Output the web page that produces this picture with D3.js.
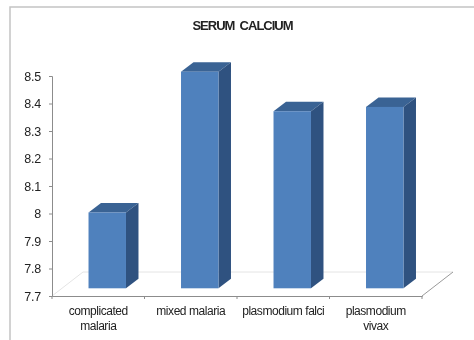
<!DOCTYPE html>
<meta charset="utf-8">
<style>
    body { margin: 0; background: #fff; }
    svg { display: block; filter: blur(0.4px); }
    text { font-family: "Liberation Sans", Arial, sans-serif; fill: #222; }
    .axis path, .axis line { stroke: #8c8c8c; }
</style>
<body>
<script src="https://cdn.jsdelivr.net/npm/d3@7"></script>
<script>
var categories = [["complicated", "malaria"], ["mixed malaria"], ["plasmodium falci"], ["plasmodium", "vivax"]];
var values = [7.98, 8.5, 8.354, 8.37];
var yTicks = [7.7, 7.8, 7.9, 8, 8.1, 8.2, 8.3, 8.4, 8.5];

var width = 474, height = 340;
var names = categories.map(function (d) { return d.join(" "); });

var svg = d3.select("body").append("svg")
    .attr("width", width)
    .attr("height", height);

// scales for the axes (front edge of the floor)
var x = d3.scaleBand().domain(names).range([52, 422]);
var y = d3.scaleLinear().domain([7.7, 8.5]).range([296, 76]);

// the bars stand further back on the floor, so they get their own scales
var xBar = d3.scaleBand().domain(names).range([61, 431]).paddingInner(0.595).paddingOuter(0.2975);
var yBar = d3.scaleLinear().domain([7.7, 8.5]).range([288.3, 71.7]);
var barDx = 12.5, barDy = -9.5, floorDx = 31, floorDy = -24;

// outer frame
svg.append("path")
    .attr("d", "M10," + height + "V7H" + width)
    .attr("fill", "none")
    .attr("stroke", "#c4c4c4")
    .attr("stroke-width", 1.5);

// floor
svg.append("path")
    .attr("d", "M52,296L" + (52 + floorDx) + "," + (296 + floorDy) + "H" + (422 + floorDx))
    .attr("fill", "none")
    .attr("stroke", "#e4e4e4");
svg.append("line")
    .attr("x1", 422).attr("y1", 296)
    .attr("x2", 422 + floorDx).attr("y2", 296 + floorDy)
    .attr("stroke", "#9a9a9a");

// title
svg.append("text")
    .attr("x", 242.5)
    .attr("y", 30)
    .attr("text-anchor", "middle")
    .style("font-size", "13px")
    .style("font-weight", "bold")
    .style("letter-spacing", "-1px")
    .attr("xml:space", "preserve")
    .text("SERUM  CALCIUM");

// axes
svg.append("g")
    .attr("class", "axis")
    .attr("transform", "translate(52,0)")
    .call(d3.axisLeft(y).tickValues(yTicks).tickSize(3).tickFormat(function (d) { return d3.format("")(d); }))
    .call(function (g) { g.selectAll("text").style("font-size", "12.5px").style("letter-spacing", "-0.2px").attr("x", -11); });

var xAxis = svg.append("g")
    .attr("class", "axis")
    .attr("transform", "translate(0,296)")
    .call(d3.axisBottom(x).tickSize(0).tickFormat(""));

xAxis.selectAll(".edge")
    .data([52].concat(names.map(function (d) { return x(d) + x.bandwidth(); })))
    .enter().append("line")
    .attr("class", "edge")
    .attr("x1", function (d) { return d; })
    .attr("x2", function (d) { return d; })
    .attr("y1", 0)
    .attr("y2", 3);

// category labels, wrapped on two lines
var labels = svg.selectAll(".cat")
    .data(categories)
    .enter().append("text")
    .attr("class", "cat")
    .attr("text-anchor", "middle")
    .style("font-size", "12px")
    .style("letter-spacing", "-0.45px")
    .attr("transform", function (d, i) {
        return "translate(" + (x(names[i]) + x.bandwidth() / 2) + ",315)";
    });
labels.selectAll("tspan")
    .data(function (d) { return d; })
    .enter().append("tspan")
    .attr("x", 0)
    .attr("y", function (d, i) { return i * 14.5; })
    .text(function (d) { return d; });

// bars: top, side, then front
var bars = svg.selectAll(".bar")
    .data(values)
    .enter().append("g")
    .attr("class", "bar");

bars.append("path")
    .attr("fill", "#3a6394")
    .attr("d", function (d, i) {
        var x0 = xBar(names[i]), x1 = x0 + xBar.bandwidth(), t = yBar(d);
        return "M" + x0 + "," + t + "L" + (x0 + barDx) + "," + (t + barDy) + "H" + (x1 + barDx) + "L" + x1 + "," + t + "Z";
    });
bars.append("path")
    .attr("fill", "#2f5280")
    .attr("d", function (d, i) {
        var x1 = xBar(names[i]) + xBar.bandwidth(), t = yBar(d), b = yBar(7.7);
        return "M" + x1 + "," + t + "L" + (x1 + barDx) + "," + (t + barDy) + "V" + (b + barDy) + "L" + x1 + "," + b + "Z";
    });
bars.append("rect")
    .attr("fill", "#4f81bd")
    .attr("x", function (d, i) { return xBar(names[i]); })
    .attr("y", function (d) { return yBar(d); })
    .attr("width", xBar.bandwidth())
    .attr("height", function (d) { return yBar(7.7) - yBar(d); });
</script>
</body>
